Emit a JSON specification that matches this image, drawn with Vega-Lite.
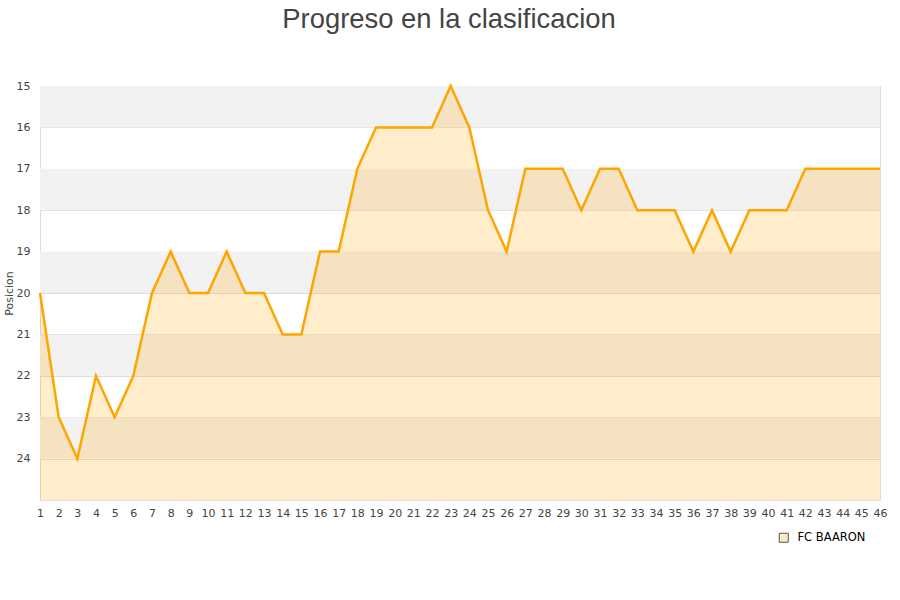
{
  "$schema": "https://vega.github.io/schema/vega-lite/v6.json",
  "autosize": "none",
  "width": 840,
  "height": 414,
  "padding": {"left": 40, "top": 86, "right": 20, "bottom": 100},
  "background": "white",
  "title": {
    "text": "Progreso en la clasificacion",
    "font": "Liberation Sans",
    "fontSize": 27.4,
    "fontWeight": "normal",
    "color": "#444444",
    "anchor": "middle",
    "offset": 47,
    "dx": -11,
    "frame": "group"
  },
  "config": {
    "view": {"stroke": "#dddddd", "strokeWidth": 1},
    "axis": {"labelFont": "DejaVu Sans", "titleFont": "DejaVu Sans", "labelColor": "#444444", "titleColor": "#444444", "labelFontSize": 11, "labelOverlap": false},
    "axisX": {"labelOverlap": false, "labelFlush": false, "labelBound": false}
  },
  "datasets": {
    "pos": [
      {"jornada": 1, "posicion": 20, "equipo": "FC BAARON"},
      {"jornada": 2, "posicion": 23, "equipo": "FC BAARON"},
      {"jornada": 3, "posicion": 24, "equipo": "FC BAARON"},
      {"jornada": 4, "posicion": 22, "equipo": "FC BAARON"},
      {"jornada": 5, "posicion": 23, "equipo": "FC BAARON"},
      {"jornada": 6, "posicion": 22, "equipo": "FC BAARON"},
      {"jornada": 7, "posicion": 20, "equipo": "FC BAARON"},
      {"jornada": 8, "posicion": 19, "equipo": "FC BAARON"},
      {"jornada": 9, "posicion": 20, "equipo": "FC BAARON"},
      {"jornada": 10, "posicion": 20, "equipo": "FC BAARON"},
      {"jornada": 11, "posicion": 19, "equipo": "FC BAARON"},
      {"jornada": 12, "posicion": 20, "equipo": "FC BAARON"},
      {"jornada": 13, "posicion": 20, "equipo": "FC BAARON"},
      {"jornada": 14, "posicion": 21, "equipo": "FC BAARON"},
      {"jornada": 15, "posicion": 21, "equipo": "FC BAARON"},
      {"jornada": 16, "posicion": 19, "equipo": "FC BAARON"},
      {"jornada": 17, "posicion": 19, "equipo": "FC BAARON"},
      {"jornada": 18, "posicion": 17, "equipo": "FC BAARON"},
      {"jornada": 19, "posicion": 16, "equipo": "FC BAARON"},
      {"jornada": 20, "posicion": 16, "equipo": "FC BAARON"},
      {"jornada": 21, "posicion": 16, "equipo": "FC BAARON"},
      {"jornada": 22, "posicion": 16, "equipo": "FC BAARON"},
      {"jornada": 23, "posicion": 15, "equipo": "FC BAARON"},
      {"jornada": 24, "posicion": 16, "equipo": "FC BAARON"},
      {"jornada": 25, "posicion": 18, "equipo": "FC BAARON"},
      {"jornada": 26, "posicion": 19, "equipo": "FC BAARON"},
      {"jornada": 27, "posicion": 17, "equipo": "FC BAARON"},
      {"jornada": 28, "posicion": 17, "equipo": "FC BAARON"},
      {"jornada": 29, "posicion": 17, "equipo": "FC BAARON"},
      {"jornada": 30, "posicion": 18, "equipo": "FC BAARON"},
      {"jornada": 31, "posicion": 17, "equipo": "FC BAARON"},
      {"jornada": 32, "posicion": 17, "equipo": "FC BAARON"},
      {"jornada": 33, "posicion": 18, "equipo": "FC BAARON"},
      {"jornada": 34, "posicion": 18, "equipo": "FC BAARON"},
      {"jornada": 35, "posicion": 18, "equipo": "FC BAARON"},
      {"jornada": 36, "posicion": 19, "equipo": "FC BAARON"},
      {"jornada": 37, "posicion": 18, "equipo": "FC BAARON"},
      {"jornada": 38, "posicion": 19, "equipo": "FC BAARON"},
      {"jornada": 39, "posicion": 18, "equipo": "FC BAARON"},
      {"jornada": 40, "posicion": 18, "equipo": "FC BAARON"},
      {"jornada": 41, "posicion": 18, "equipo": "FC BAARON"},
      {"jornada": 42, "posicion": 17, "equipo": "FC BAARON"},
      {"jornada": 43, "posicion": 17, "equipo": "FC BAARON"},
      {"jornada": 44, "posicion": 17, "equipo": "FC BAARON"},
      {"jornada": 45, "posicion": 17, "equipo": "FC BAARON"},
      {"jornada": 46, "posicion": 17, "equipo": "FC BAARON"}
    ],
    "bands": [
      {"desde": 15, "hasta": 16},
      {"desde": 17, "hasta": 18},
      {"desde": 19, "hasta": 20},
      {"desde": 21, "hasta": 22},
      {"desde": 23, "hasta": 24}
    ]
  },
  "layer": [
    {
      "data": {"name": "bands"},
      "mark": {"type": "rect", "color": "#f2f2f2"},
      "encoding": {
        "y": {"field": "desde", "type": "quantitative", "scale": {"domain": [15, 25], "reverse": true, "nice": false, "zero": false}},
        "y2": {"field": "hasta"}
      }
    },
    {
      "data": {"name": "pos"},
      "mark": {"type": "area", "color": "#ffa500", "fillOpacity": 0.2, "interpolate": "linear"},
      "encoding": {
        "x": {"field": "jornada", "type": "quantitative", "scale": {"domain": [1, 46], "nice": false, "zero": false},
              "axis": {"values": [1,2,3,4,5,6,7,8,9,10,11,12,13,14,15,16,17,18,19,20,21,22,23,24,25,26,27,28,29,30,31,32,33,34,35,36,37,38,39,40,41,42,43,44,45,46], "tickCount": 46, "title": null, "grid": false, "domain": false, "ticks": false, "labelPadding": 7, "labelFlush": false, "labelOverlap": false, "labelBound": false}},
        "y": {"field": "posicion", "type": "quantitative", "scale": {"domain": [15, 25], "reverse": true, "nice": false, "zero": false},
              "axis": {"values": [15,16,17,18,19,20,21,22,23,24], "title": "Posicion", "titleFontSize": 11, "titleFontWeight": "normal", "titlePadding": 2, "grid": true, "gridColor": "#dddddd", "domain": false, "ticks": false, "labelPadding": 10, "labelOverlap": false}},
        "y2": {"datum": 25}
      }
    },
    {
      "data": {"name": "pos"},
      "transform": [{"filter": "datum.jornada == 46"}],
      "mark": {"type": "square", "size": 0, "filled": true, "stroke": "#555555", "strokeWidth": 1, "opacity": 1},
      "encoding": {
        "x": {"field": "jornada", "type": "quantitative"},
        "y": {"field": "posicion", "type": "quantitative"},
        "fill": {"field": "equipo", "type": "nominal", "scale": {"range": ["#fde9c6"]},
                 "legend": {"title": null, "orient": "none", "legendX": 738, "legendY": 446, "symbolType": "square", "symbolSize": 81, "labelOffset": 8, "labelFont": "DejaVu Sans", "labelFontSize": 11.5, "labelColor": "#000000", "symbolStrokeColor": "#555555", "symbolStrokeWidth": 1}}
      }
    },
    {
      "data": {"name": "pos"},
      "mark": {"type": "line", "color": "#ffa500", "strokeWidth": 2.5},
      "encoding": {
        "x": {"field": "jornada", "type": "quantitative",
              "axis": {"values": [1,2,3,4,5,6,7,8,9,10,11,12,13,14,15,16,17,18,19,20,21,22,23,24,25,26,27,28,29,30,31,32,33,34,35,36,37,38,39,40,41,42,43,44,45,46], "tickCount": 46, "title": null, "grid": false, "domain": false, "ticks": false, "labelPadding": 7, "labelFlush": false, "labelOverlap": false, "labelBound": false}},
        "y": {"field": "posicion", "type": "quantitative"}
      }
    }
  ]
}
